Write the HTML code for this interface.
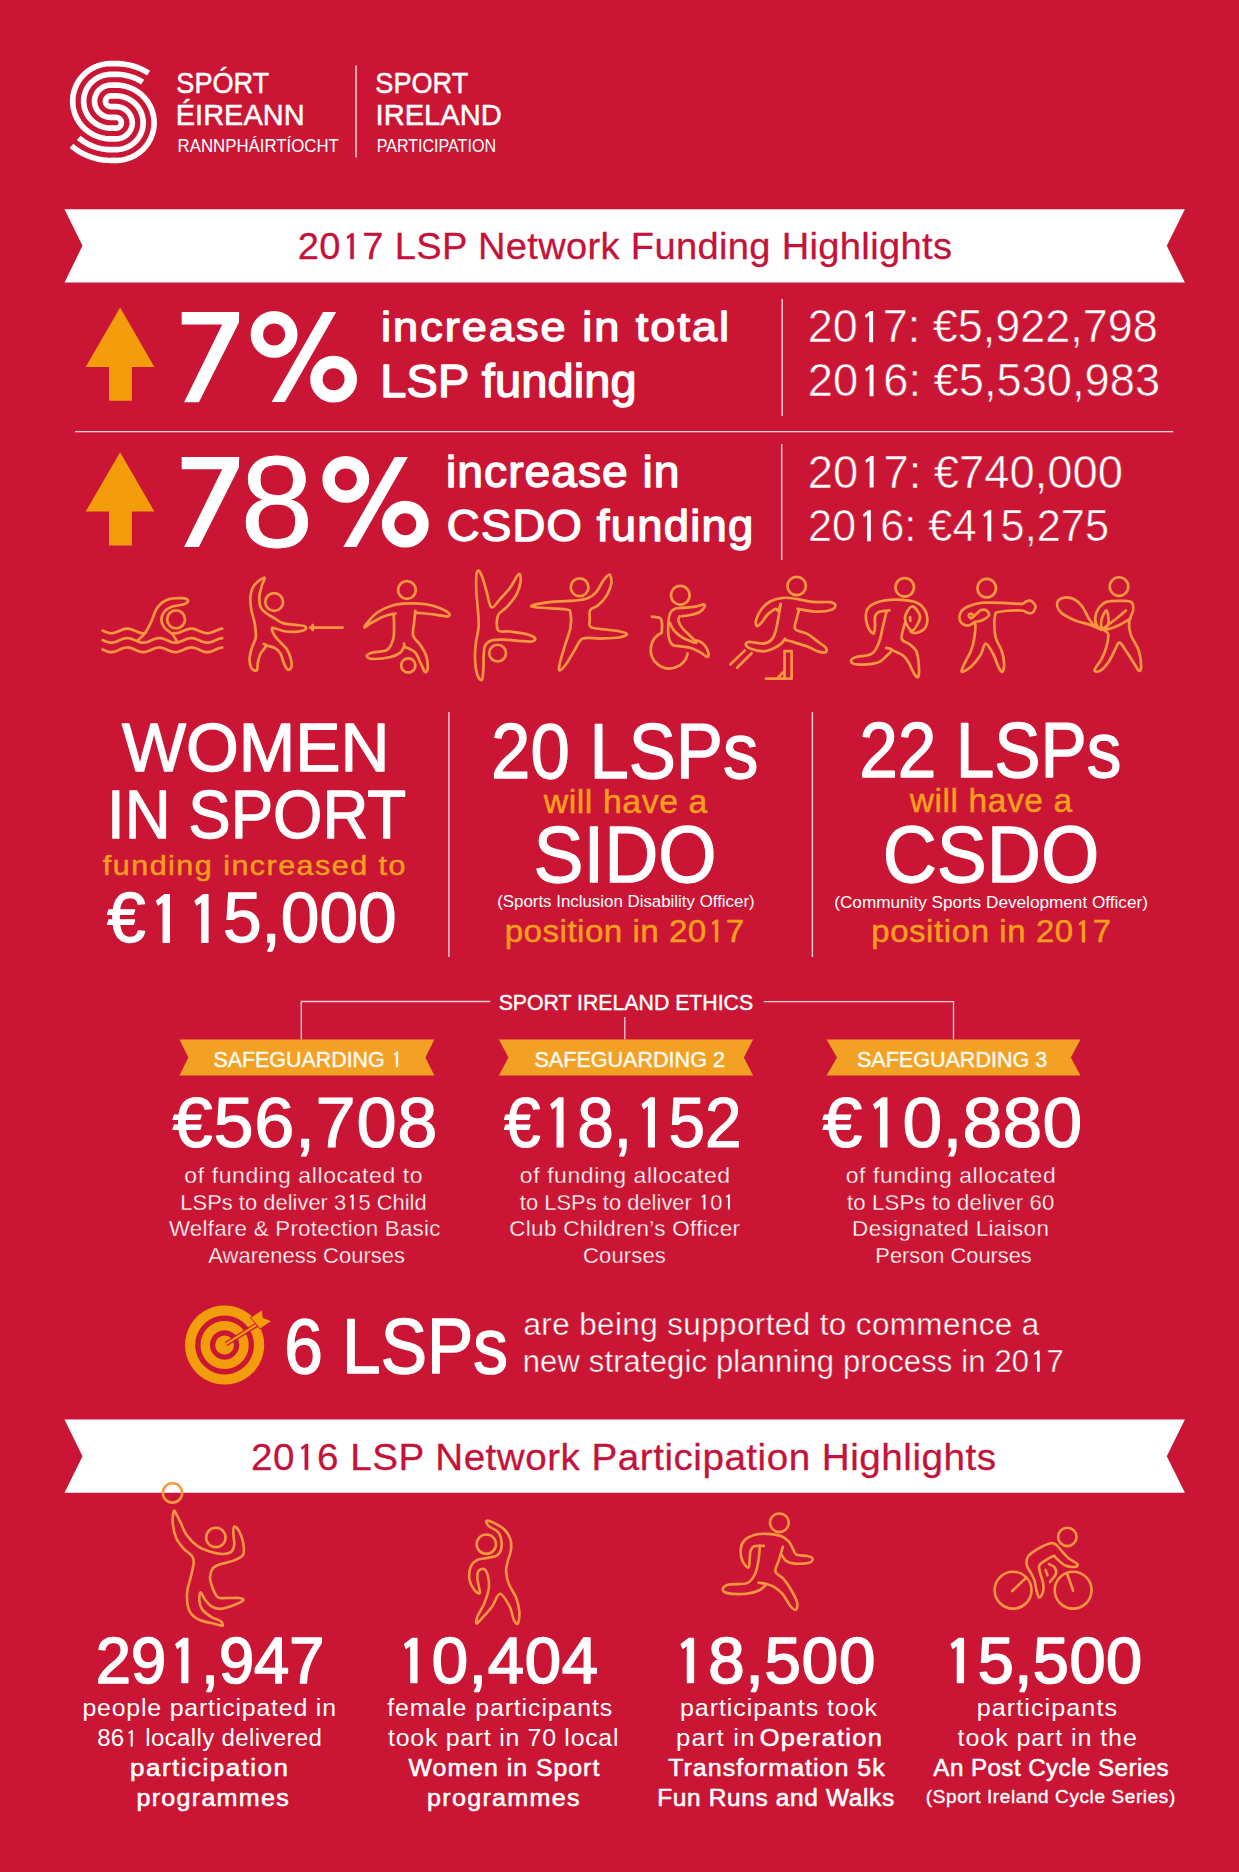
<!DOCTYPE html>
<html><head><meta charset="utf-8"><title>LSP Network Highlights</title>
<style>
html,body{margin:0;padding:0;background:#CA1634;width:1239px;height:1872px;overflow:hidden;}
svg{display:block;font-family:"Liberation Sans",sans-serif;white-space:pre;}
</style></head><body>
<svg width="1239" height="1872" viewBox="0 0 1239 1872">
<rect width="1239" height="1872" fill="#CA1634"/>
<g transform="translate(113.5,112) scale(1.03,1.015) translate(-113.5,-112)"><path d="M79.71,137.40 L81.59,138.95 L83.54,140.41 L85.57,141.76 L87.67,143.00 L89.82,144.14 L92.03,145.17 L94.30,146.08 L96.60,146.87 L98.94,147.55 L101.32,148.11 L103.71,148.54 L106.13,148.85 L108.56,149.04 L111.00,149.10 L115.80,149.10 L117.16,149.06 L118.52,148.96 L119.88,148.78 L121.22,148.54 L122.55,148.23 L123.86,147.84 L125.15,147.40 L126.41,146.88 L127.65,146.30 L128.85,145.66 L130.02,144.96 L131.15,144.20 L132.25,143.38 L133.29,142.50 L134.30,141.58 L135.25,140.60 L136.15,139.58 L137.00,138.51 L137.79,137.39 L138.52,136.24 L139.19,135.05 L139.80,133.83 L140.35,132.58 L140.83,131.31 L141.24,130.01 L141.59,128.69 L141.87,127.35 L142.08,126.00 L142.22,124.65 L142.29,123.28 L142.29,121.92 L142.22,120.55 L142.08,119.20 L141.87,117.85 L141.59,116.51 L141.24,115.19 L140.83,113.89 L140.35,112.62 L139.80,111.37 L139.19,110.15 L138.52,108.96 L137.79,107.81 L137.00,106.69 L136.15,105.62 L135.25,104.60 L134.30,103.62 L133.29,102.70 L132.25,101.82 L131.15,101.00 L130.02,100.24 L128.85,99.54 L127.65,98.90 L126.41,98.32 L125.15,97.80 L123.86,97.36 L122.55,96.97 L121.22,96.66 L119.88,96.42 L118.52,96.24 L117.16,96.14 L115.80,96.10 L111.00,96.10 L110.73,96.11 L110.46,96.13 L110.18,96.16 L109.92,96.21 L109.65,96.27 L109.39,96.35 L109.13,96.44 L108.88,96.54 L108.63,96.66 L108.39,96.79 L108.16,96.93 L107.93,97.08 L107.71,97.24 L107.50,97.42 L107.30,97.60 L107.11,97.80 L106.93,98.00 L106.76,98.22 L106.60,98.44 L106.46,98.67 L106.32,98.91 L106.20,99.15 L106.09,99.40 L105.99,99.66 L105.91,99.92 L105.84,100.18 L105.79,100.45 L105.74,100.72 L105.72,100.99 L105.70,101.26 L105.70,101.54 L105.72,101.81 L105.74,102.08 L105.79,102.35 L105.84,102.62 L105.91,102.88 L105.99,103.14 L106.09,103.40 L106.20,103.65 L106.32,103.89 L106.46,104.13 L106.60,104.36 L106.76,104.58 L106.93,104.80 L107.11,105.00 L107.30,105.20 L107.50,105.38 L107.71,105.56 L107.93,105.72 L108.16,105.87 L108.39,106.01 L108.63,106.14 L108.88,106.26 L109.13,106.36 L109.39,106.45 L109.65,106.53 L109.92,106.59 L110.18,106.64 L110.46,106.67 L110.73,106.69 L111.00,106.70 L115.80,106.70 L116.62,106.72 L117.43,106.78 L118.25,106.89 L119.05,107.04 L119.85,107.22 L120.64,107.45 L121.41,107.72 L122.17,108.03 L122.91,108.38 L123.63,108.76 L124.33,109.18 L125.01,109.64 L125.67,110.13 L126.30,110.66 L126.90,111.21 L127.47,111.80 L128.01,112.41 L128.52,113.06 L128.99,113.72 L129.43,114.41 L129.83,115.13 L130.20,115.86 L130.53,116.61 L130.82,117.38 L131.07,118.16 L131.27,118.95 L131.44,119.75 L131.57,120.56 L131.65,121.37 L131.69,122.19 L131.69,123.01 L131.65,123.83 L131.57,124.64 L131.44,125.45 L131.27,126.25 L131.07,127.04 L130.82,127.82 L130.53,128.59 L130.20,129.34 L129.83,130.07 L129.43,130.79 L128.99,131.48 L128.52,132.14 L128.01,132.79 L127.47,133.40 L126.90,133.99 L126.30,134.54 L125.67,135.07 L125.01,135.56 L124.33,136.02 L123.63,136.44 L122.91,136.82 L122.17,137.17 L121.41,137.48 L120.64,137.75 L119.85,137.98 L119.05,138.16 L118.25,138.31 L117.43,138.42 L116.62,138.48 L115.80,138.50 L111.00,138.50 L109.09,138.45 L107.19,138.30 L105.29,138.06 L103.41,137.72 L101.55,137.28 L99.72,136.74 L97.91,136.12 L96.14,135.40 L94.41,134.59 L92.73,133.69 L91.09,132.70 L89.50,131.64 L87.98,130.49 L86.51,129.27 L85.11,127.97 L83.77,126.60 L82.51,125.17 L81.33,123.67 L80.22,122.11 L79.19,120.50 L78.25,118.84 L77.40,117.13 L76.63,115.38 L75.96,113.59 L75.38,111.77 L74.89,109.92 L74.50,108.05 L74.21,106.16 L74.01,104.26 L73.91,102.36 L73.91,100.44 L74.01,98.54 L74.21,96.64 L74.50,94.75 L74.89,92.88 L75.38,91.03 L75.96,89.21 L76.63,87.42 L77.40,85.67 L78.25,83.96 L79.19,82.30 L80.22,80.69 L81.33,79.13 L82.51,77.63 L83.77,76.20 L85.11,74.83 L86.51,73.53 L87.98,72.31 L89.50,71.16 L91.09,70.10 L92.73,69.11 L94.41,68.21 L96.14,67.40 L97.91,66.68 L99.72,66.06 L101.55,65.52 L103.41,65.08 L105.29,64.74 L107.19,64.50 L109.09,64.35 L111.00,64.30 L115.80,64.30 L118.60,64.37 L121.39,64.57 L124.17,64.90 L126.92,65.37 L129.66,65.97 L132.36,66.70 L135.02,67.56 L137.64,68.55 L140.21,69.66 L142.72,70.89 L145.17,72.24 L147.55,73.71" fill="none" stroke="#FFFFFF" stroke-width="5.5" stroke-linejoin="round"/>
<path d="M72.75,145.40 L75.05,147.30 L77.44,149.07 L79.92,150.73 L82.48,152.25 L85.12,153.64 L87.82,154.89 L90.58,156.01 L93.40,156.98 L96.26,157.81 L99.16,158.49 L102.10,159.02 L105.05,159.40 L108.02,159.62 L111.00,159.70 L115.80,159.70 L117.71,159.65 L119.61,159.50 L121.51,159.26 L123.39,158.92 L125.25,158.48 L127.08,157.94 L128.89,157.32 L130.66,156.60 L132.39,155.79 L134.07,154.89 L135.71,153.90 L137.30,152.84 L138.82,151.69 L140.29,150.47 L141.69,149.17 L143.03,147.80 L144.29,146.37 L145.47,144.87 L146.58,143.31 L147.61,141.70 L148.55,140.04 L149.40,138.33 L150.17,136.58 L150.84,134.79 L151.42,132.97 L151.91,131.12 L152.30,129.25 L152.59,127.36 L152.79,125.46 L152.89,123.56 L152.89,121.64 L152.79,119.74 L152.59,117.84 L152.30,115.95 L151.91,114.08 L151.42,112.23 L150.84,110.41 L150.17,108.62 L149.40,106.87 L148.55,105.16 L147.61,103.50 L146.58,101.89 L145.47,100.33 L144.29,98.83 L143.03,97.40 L141.69,96.03 L140.29,94.73 L138.82,93.51 L137.30,92.36 L135.71,91.30 L134.07,90.31 L132.39,89.41 L130.66,88.60 L128.89,87.88 L127.08,87.26 L125.25,86.72 L123.39,86.28 L121.51,85.94 L119.61,85.70 L117.71,85.55 L115.80,85.50 L111.00,85.50 L110.18,85.52 L109.37,85.58 L108.55,85.69 L107.75,85.84 L106.95,86.02 L106.16,86.25 L105.39,86.52 L104.63,86.83 L103.89,87.18 L103.17,87.56 L102.47,87.98 L101.79,88.44 L101.13,88.93 L100.50,89.46 L99.90,90.01 L99.33,90.60 L98.79,91.21 L98.28,91.86 L97.81,92.52 L97.37,93.21 L96.97,93.93 L96.60,94.66 L96.27,95.41 L95.98,96.18 L95.73,96.96 L95.53,97.75 L95.36,98.55 L95.23,99.36 L95.15,100.17 L95.11,100.99 L95.11,101.81 L95.15,102.63 L95.23,103.44 L95.36,104.25 L95.53,105.05 L95.73,105.84 L95.98,106.62 L96.27,107.39 L96.60,108.14 L96.97,108.87 L97.37,109.59 L97.81,110.28 L98.28,110.94 L98.79,111.59 L99.33,112.20 L99.90,112.79 L100.50,113.34 L101.13,113.87 L101.79,114.36 L102.47,114.82 L103.17,115.24 L103.89,115.62 L104.63,115.97 L105.39,116.28 L106.16,116.55 L106.95,116.78 L107.75,116.96 L108.55,117.11 L109.37,117.22 L110.18,117.28 L111.00,117.30 L115.80,117.30 L116.07,117.31 L116.34,117.33 L116.62,117.36 L116.88,117.41 L117.15,117.47 L117.41,117.55 L117.67,117.64 L117.92,117.74 L118.17,117.86 L118.41,117.99 L118.64,118.13 L118.87,118.28 L119.09,118.44 L119.30,118.62 L119.50,118.80 L119.69,119.00 L119.87,119.20 L120.04,119.42 L120.20,119.64 L120.34,119.87 L120.48,120.11 L120.60,120.35 L120.71,120.60 L120.81,120.86 L120.89,121.12 L120.96,121.38 L121.01,121.65 L121.06,121.92 L121.08,122.19 L121.10,122.46 L121.10,122.74 L121.08,123.01 L121.06,123.28 L121.01,123.55 L120.96,123.82 L120.89,124.08 L120.81,124.34 L120.71,124.60 L120.60,124.85 L120.48,125.09 L120.34,125.33 L120.20,125.56 L120.04,125.78 L119.87,126.00 L119.69,126.20 L119.50,126.40 L119.30,126.58 L119.09,126.76 L118.87,126.92 L118.64,127.07 L118.41,127.21 L118.17,127.34 L117.92,127.46 L117.67,127.56 L117.41,127.65 L117.15,127.73 L116.88,127.79 L116.62,127.84 L116.34,127.87 L116.07,127.89 L115.80,127.90 L111.00,127.90 L109.64,127.86 L108.28,127.76 L106.92,127.58 L105.58,127.34 L104.25,127.03 L102.94,126.64 L101.65,126.20 L100.39,125.68 L99.15,125.10 L97.95,124.46 L96.78,123.76 L95.65,123.00 L94.55,122.18 L93.51,121.30 L92.50,120.38 L91.55,119.40 L90.65,118.38 L89.80,117.31 L89.01,116.19 L88.28,115.04 L87.61,113.85 L87.00,112.63 L86.45,111.38 L85.97,110.11 L85.56,108.81 L85.21,107.49 L84.93,106.15 L84.72,104.80 L84.58,103.45 L84.51,102.08 L84.51,100.72 L84.58,99.35 L84.72,98.00 L84.93,96.65 L85.21,95.31 L85.56,93.99 L85.97,92.69 L86.45,91.42 L87.00,90.17 L87.61,88.95 L88.28,87.76 L89.01,86.61 L89.80,85.49 L90.65,84.42 L91.55,83.40 L92.50,82.42 L93.51,81.50 L94.55,80.62 L95.65,79.80 L96.78,79.04 L97.95,78.34 L99.15,77.70 L100.39,77.12 L101.65,76.60 L102.94,76.16 L104.25,75.77 L105.58,75.46 L106.92,75.22 L108.28,75.04 L109.64,74.94 L111.00,74.90 L115.80,74.90 L118.09,74.95 L120.37,75.12 L122.64,75.39 L124.90,75.78 L127.14,76.27 L129.35,76.86 L131.53,77.57 L133.67,78.37 L135.77,79.28 L137.83,80.29 L139.83,81.40 L141.78,82.60" fill="none" stroke="#FFFFFF" stroke-width="5.5" stroke-linejoin="round"/></g>
<text x="176.32" y="93.45" font-size="30.38" fill="#FFFFFF" stroke="#FFFFFF" stroke-width="0.50" stroke-linejoin="round" textLength="92.85" lengthAdjust="spacingAndGlyphs">SPÓRT</text>
<text x="175.77" y="125.15" font-size="29.94" fill="#FFFFFF" stroke="#FFFFFF" stroke-width="0.50" stroke-linejoin="round" textLength="128.84" lengthAdjust="spacingAndGlyphs">ÉIREANN</text>
<text x="177.62" y="151.80" font-size="18.31" fill="#FFFFFF" textLength="161.26" lengthAdjust="spacingAndGlyphs">RANNPHÁIRTÍOCHT</text>
<text x="375.32" y="93.45" font-size="30.38" fill="#FFFFFF" stroke="#FFFFFF" stroke-width="0.50" stroke-linejoin="round" textLength="92.95" lengthAdjust="spacingAndGlyphs">SPORT</text>
<text x="375.57" y="124.95" font-size="29.94" fill="#FFFFFF" stroke="#FFFFFF" stroke-width="0.50" stroke-linejoin="round" textLength="126.08" lengthAdjust="spacingAndGlyphs">IRELAND</text>
<text x="376.68" y="151.80" font-size="18.31" fill="#FFFFFF" textLength="119.33" lengthAdjust="spacingAndGlyphs">PARTICIPATION</text>
<rect x="355.3" y="65.5" width="1.5" height="92" fill="#F6D2D8"/>
<polygon points="64.5,209.2 1184.9,209.2 1166.8,245.8 1184.9,282.4 64.5,282.4 82.5,245.8" fill="#FFFFFF"/>
<text x="297.84" y="259.05" font-size="37.35" letter-spacing="0.34" fill="#C4123A" stroke="#C4123A" stroke-width="0.30" stroke-linejoin="round" textLength="654.43" lengthAdjust="spacingAndGlyphs">20 7 LSP Network Funding Highlights</text>
<path transform="translate(340.81,259.05) scale(0.01856,-0.01824)" d="M515,0 H696 V1409 H565 L318,1222 L368,1098 L515,1212 Z" fill="#C4123A" stroke="#C4123A" stroke-width="16.2" stroke-linejoin="round"/>
<polygon points="120.1,307.6 154.4,366.9 131.9,366.9 131.9,400.8 109.0,400.8 109.0,366.9 85.7,366.9" fill="#F49D0C"/>
<polygon points="120.1,452.20000000000005 154.4,511.5 131.9,511.5 131.9,545.4 109.0,545.4 109.0,511.5 85.7,511.5" fill="#F49D0C"/>
<polygon points="181.7,312.0 239.2,312.0 238.9,322.6 198.9,402.2 184.1,402.2 222.2,324.4 181.7,324.4" fill="#FFFFFF"/>
<g fill="none" stroke="#FFFFFF" stroke-width="12.4"><circle cx="274.1" cy="334.4" r="17.2"/><circle cx="333.6" cy="379.2" r="17.2"/></g><polygon points="323.0,312.0 336.2,312.0 284.8,402.0 271.6,402.0" fill="#FFFFFF"/>
<text x="381.08" y="341.10" font-size="41.26" letter-spacing="1.83" fill="#FFFFFF" stroke="#FFFFFF" stroke-width="1.40" stroke-linejoin="round" textLength="350.04" lengthAdjust="spacingAndGlyphs">increase in total</text>
<text x="380.26" y="396.90" font-size="46.51" letter-spacing="0.14" fill="#FFFFFF" stroke="#FFFFFF" stroke-width="1.40" stroke-linejoin="round" textLength="256.50" lengthAdjust="spacingAndGlyphs">LSP funding</text>
<text x="807.84" y="342.30" font-size="45.40" fill="#FFFFFF" stroke="#CA1634" stroke-width="0.60" stroke-linejoin="round" textLength="349.91" lengthAdjust="spacingAndGlyphs">20 7: €5,922,798</text>
<path transform="translate(857.83,342.30) scale(0.02195,-0.02217)" d="M515,0 H696 V1409 H565 L318,1222 L368,1098 L515,1212 Z" fill="#FFFFFF"/>
<text x="807.82" y="396.20" font-size="45.83" fill="#FFFFFF" stroke="#CA1634" stroke-width="0.60" stroke-linejoin="round" textLength="352.26" lengthAdjust="spacingAndGlyphs">20 6: €5,530,983</text>
<path transform="translate(858.15,396.20) scale(0.02209,-0.02238)" d="M515,0 H696 V1409 H565 L318,1222 L368,1098 L515,1212 Z" fill="#FFFFFF"/>
<rect x="781.5" y="299" width="1.4" height="117" fill="#F6D2D8"/>
<rect x="75.2" y="431" width="1098" height="1.3" fill="#F6D2D8"/>
<polygon points="181.7,456.9 239.2,456.9 238.9,467.5 198.9,547.1 184.1,547.1 222.2,469.3 181.7,469.3" fill="#FFFFFF"/>
<text x="240.51" y="547.40" font-size="129.91" letter-spacing="0.22" fill="#FFFFFF" stroke="#FFFFFF" stroke-width="0.80" stroke-linejoin="round" textLength="73.00" lengthAdjust="spacingAndGlyphs">8</text>
<g fill="none" stroke="#FFFFFF" stroke-width="12.4"><circle cx="345.8" cy="479.4" r="17.2"/><circle cx="405.3" cy="524.2" r="17.2"/></g><polygon points="394.7,457.0 407.9,457.0 356.5,547.0 343.3,547.0" fill="#FFFFFF"/>
<text x="446.11" y="487.10" font-size="44.30" letter-spacing="0.95" fill="#FFFFFF" stroke="#FFFFFF" stroke-width="1.40" stroke-linejoin="round" textLength="234.38" lengthAdjust="spacingAndGlyphs">increase in</text>
<text x="446.89" y="540.80" font-size="43.46" letter-spacing="1.18" fill="#FFFFFF" stroke="#FFFFFF" stroke-width="1.40" stroke-linejoin="round" textLength="307.56" lengthAdjust="spacingAndGlyphs">CSDO funding</text>
<text x="807.82" y="487.60" font-size="45.83" fill="#FFFFFF" stroke="#CA1634" stroke-width="0.60" stroke-linejoin="round" textLength="315.05" lengthAdjust="spacingAndGlyphs">20 7: €740,000</text>
<path transform="translate(858.23,487.60) scale(0.02213,-0.02238)" d="M515,0 H696 V1409 H565 L318,1222 L368,1098 L515,1212 Z" fill="#FFFFFF"/>
<text x="807.92" y="541.30" font-size="44.97" fill="#FFFFFF" stroke="#CA1634" stroke-width="0.60" stroke-linejoin="round" textLength="301.10" lengthAdjust="spacingAndGlyphs">20 6: €4 5,275</text>
<path transform="translate(856.10,541.30) scale(0.02115,-0.02196)" d="M515,0 H696 V1409 H565 L318,1222 L368,1098 L515,1212 Z" fill="#FFFFFF"/>
<path transform="translate(976.53,541.30) scale(0.02115,-0.02196)" d="M515,0 H696 V1409 H565 L318,1222 L368,1098 L515,1212 Z" fill="#FFFFFF"/>
<rect x="781.0" y="444" width="1.4" height="116" fill="#F6D2D8"/>
<g transform="translate(100,590) scale(0.10493)" fill="none" stroke="#FC9640" stroke-width="25.7" stroke-linecap="round" stroke-linejoin="round">
<path d="M25.0,387.2 C27.5,388.3 35.0,391.8 40.0,393.9 C45.0,396.1 50.0,398.4 55.0,400.3 C60.0,402.3 65.0,404.2 70.0,405.8 C75.0,407.3 80.0,408.7 85.0,409.7 C90.0,410.7 95.0,411.4 100.0,411.7 C105.0,412.1 110.0,412.1 115.0,411.7 C120.0,411.4 125.0,410.7 130.0,409.7 C135.0,408.7 140.0,407.3 145.0,405.8 C150.0,404.2 155.0,402.3 160.0,400.3 C165.0,398.4 170.0,396.1 175.0,393.9 C180.0,391.8 185.0,389.4 190.0,387.2 C195.0,385.0 200.0,382.7 205.0,380.7 C210.0,378.7 215.0,376.7 220.0,375.1 C225.0,373.4 230.0,372.0 235.0,370.9 C240.0,369.8 245.0,368.9 250.0,368.5 C255.0,368.0 260.0,367.9 265.0,368.1 C270.0,368.3 275.0,368.9 280.0,369.8 C285.0,370.7 290.0,372.0 295.0,373.5 C300.0,374.9 305.0,376.8 310.0,378.7 C315.0,380.6 320.0,382.8 325.0,384.9 C330.0,387.1 335.0,389.5 340.0,391.7 C345.0,393.9 350.0,396.2 355.0,398.3 C360.0,400.4 365.0,402.4 370.0,404.1 C375.0,405.8 380.0,407.4 385.0,408.6 C390.0,409.8 395.0,410.7 400.0,411.3 C405.0,411.8 410.0,412.1 415.0,412.0 C420.0,411.9 427.5,410.8 430.0,410.6"/>
<path d="M700.0,410.6 C702.5,410.8 710.0,411.9 715.0,412.0 C720.0,412.1 725.0,411.8 730.0,411.3 C735.0,410.7 740.0,409.8 745.0,408.6 C750.0,407.4 755.0,405.8 760.0,404.1 C765.0,402.4 770.0,400.4 775.0,398.3 C780.0,396.2 785.0,393.9 790.0,391.7 C795.0,389.5 800.0,387.1 805.0,384.9 C810.0,382.8 815.0,380.6 820.0,378.7 C825.0,376.8 830.0,374.9 835.0,373.5 C840.0,372.0 845.0,370.7 850.0,369.8 C855.0,368.9 860.0,368.3 865.0,368.1 C870.0,367.9 875.0,368.0 880.0,368.5 C885.0,368.9 890.0,369.8 895.0,370.9 C900.0,372.0 905.0,373.4 910.0,375.1 C915.0,376.7 920.0,378.7 925.0,380.7 C930.0,382.7 935.0,385.0 940.0,387.2 C945.0,389.4 950.0,391.8 955.0,393.9 C960.0,396.1 965.0,398.4 970.0,400.3 C975.0,402.3 980.0,404.2 985.0,405.8 C990.0,407.3 995.0,408.7 1000.0,409.7 C1005.0,410.7 1010.0,411.4 1015.0,411.7 C1020.0,412.1 1025.0,412.1 1030.0,411.7 C1035.0,411.4 1040.0,410.7 1045.0,409.7 C1050.0,408.7 1055.0,407.3 1060.0,405.8 C1065.0,404.2 1070.0,402.3 1075.0,400.3 C1080.0,398.4 1085.0,396.1 1090.0,393.9 C1095.0,391.8 1100.0,389.4 1105.0,387.2 C1110.0,385.0 1115.0,382.7 1120.0,380.7 C1125.0,378.7 1130.0,376.7 1135.0,375.1 C1140.0,373.4 1145.0,372.0 1150.0,370.9 C1155.0,369.8 1162.5,368.9 1165.0,368.5"/>
<path d="M25.0,477.2 C27.5,478.3 35.0,481.8 40.0,483.9 C45.0,486.1 50.0,488.4 55.0,490.3 C60.0,492.3 65.0,494.2 70.0,495.8 C75.0,497.3 80.0,498.7 85.0,499.7 C90.0,500.7 95.0,501.4 100.0,501.7 C105.0,502.1 110.0,502.1 115.0,501.7 C120.0,501.4 125.0,500.7 130.0,499.7 C135.0,498.7 140.0,497.3 145.0,495.8 C150.0,494.2 155.0,492.3 160.0,490.3 C165.0,488.4 170.0,486.1 175.0,483.9 C180.0,481.8 185.0,479.4 190.0,477.2 C195.0,475.0 200.0,472.7 205.0,470.7 C210.0,468.7 215.0,466.7 220.0,465.1 C225.0,463.4 230.0,462.0 235.0,460.9 C240.0,459.8 245.0,458.9 250.0,458.5 C255.0,458.0 260.0,457.9 265.0,458.1 C270.0,458.3 275.0,458.9 280.0,459.8 C285.0,460.7 290.0,462.0 295.0,463.5 C300.0,464.9 305.0,466.8 310.0,468.7 C315.0,470.6 320.0,472.8 325.0,474.9 C330.0,477.1 335.0,479.5 340.0,481.7 C345.0,483.9 350.0,486.2 355.0,488.3 C360.0,490.4 365.0,492.4 370.0,494.1 C375.0,495.8 380.0,497.4 385.0,498.6 C390.0,499.8 395.0,500.7 400.0,501.3 C405.0,501.8 410.0,502.1 415.0,502.0 C420.0,501.9 425.0,501.4 430.0,500.6 C435.0,499.8 440.0,498.6 445.0,497.3 C450.0,495.9 455.0,494.1 460.0,492.3 C465.0,490.4 470.0,488.3 475.0,486.1 C480.0,484.0 485.0,481.7 490.0,479.4 C495.0,477.2 500.0,474.9 505.0,472.8 C510.0,470.7 515.0,468.6 520.0,466.8 C525.0,465.0 530.0,463.4 535.0,462.1 C540.0,460.8 545.0,459.7 550.0,459.0 C555.0,458.4 560.0,458.0 565.0,458.0 C570.0,458.0 575.0,458.4 580.0,459.0 C585.0,459.7 590.0,460.8 595.0,462.1 C600.0,463.4 605.0,465.0 610.0,466.8 C615.0,468.6 620.0,470.7 625.0,472.8 C630.0,474.9 635.0,477.2 640.0,479.4 C645.0,481.7 650.0,484.0 655.0,486.1 C660.0,488.3 665.0,490.4 670.0,492.3 C675.0,494.1 680.0,495.9 685.0,497.3 C690.0,498.6 695.0,499.8 700.0,500.6 C705.0,501.4 710.0,501.9 715.0,502.0 C720.0,502.1 725.0,501.8 730.0,501.3 C735.0,500.7 740.0,499.8 745.0,498.6 C750.0,497.4 755.0,495.8 760.0,494.1 C765.0,492.4 770.0,490.4 775.0,488.3 C780.0,486.2 785.0,483.9 790.0,481.7 C795.0,479.5 800.0,477.1 805.0,474.9 C810.0,472.8 815.0,470.6 820.0,468.7 C825.0,466.8 830.0,464.9 835.0,463.5 C840.0,462.0 845.0,460.7 850.0,459.8 C855.0,458.9 860.0,458.3 865.0,458.1 C870.0,457.9 875.0,458.0 880.0,458.5 C885.0,458.9 890.0,459.8 895.0,460.9 C900.0,462.0 905.0,463.4 910.0,465.1 C915.0,466.7 920.0,468.7 925.0,470.7 C930.0,472.7 935.0,475.0 940.0,477.2 C945.0,479.4 950.0,481.8 955.0,483.9 C960.0,486.1 965.0,488.4 970.0,490.3 C975.0,492.3 980.0,494.2 985.0,495.8 C990.0,497.3 995.0,498.7 1000.0,499.7 C1005.0,500.7 1010.0,501.4 1015.0,501.7 C1020.0,502.1 1025.0,502.1 1030.0,501.7 C1035.0,501.4 1040.0,500.7 1045.0,499.7 C1050.0,498.7 1055.0,497.3 1060.0,495.8 C1065.0,494.2 1070.0,492.3 1075.0,490.3 C1080.0,488.4 1085.0,486.1 1090.0,483.9 C1095.0,481.8 1100.0,479.4 1105.0,477.2 C1110.0,475.0 1115.0,472.7 1120.0,470.7 C1125.0,468.7 1130.0,466.7 1135.0,465.1 C1140.0,463.4 1145.0,462.0 1150.0,460.9 C1155.0,459.8 1162.5,458.9 1165.0,458.5"/>
<path d="M25.0,567.2 C27.5,568.3 35.0,571.8 40.0,573.9 C45.0,576.1 50.0,578.4 55.0,580.3 C60.0,582.3 65.0,584.2 70.0,585.8 C75.0,587.3 80.0,588.7 85.0,589.7 C90.0,590.7 95.0,591.4 100.0,591.7 C105.0,592.1 110.0,592.1 115.0,591.7 C120.0,591.4 125.0,590.7 130.0,589.7 C135.0,588.7 140.0,587.3 145.0,585.8 C150.0,584.2 155.0,582.3 160.0,580.3 C165.0,578.4 170.0,576.1 175.0,573.9 C180.0,571.8 185.0,569.4 190.0,567.2 C195.0,565.0 200.0,562.7 205.0,560.7 C210.0,558.7 215.0,556.7 220.0,555.1 C225.0,553.4 230.0,552.0 235.0,550.9 C240.0,549.8 245.0,548.9 250.0,548.5 C255.0,548.0 260.0,547.9 265.0,548.1 C270.0,548.3 275.0,548.9 280.0,549.8 C285.0,550.7 290.0,552.0 295.0,553.5 C300.0,554.9 305.0,556.8 310.0,558.7 C315.0,560.6 320.0,562.8 325.0,564.9 C330.0,567.1 335.0,569.5 340.0,571.7 C345.0,573.9 350.0,576.2 355.0,578.3 C360.0,580.4 365.0,582.4 370.0,584.1 C375.0,585.8 380.0,587.4 385.0,588.6 C390.0,589.8 395.0,590.7 400.0,591.3 C405.0,591.8 410.0,592.1 415.0,592.0 C420.0,591.9 425.0,591.4 430.0,590.6 C435.0,589.8 440.0,588.6 445.0,587.3 C450.0,585.9 455.0,584.1 460.0,582.3 C465.0,580.4 470.0,578.3 475.0,576.1 C480.0,574.0 485.0,571.7 490.0,569.4 C495.0,567.2 500.0,564.9 505.0,562.8 C510.0,560.7 515.0,558.6 520.0,556.8 C525.0,555.0 530.0,553.4 535.0,552.1 C540.0,550.8 545.0,549.7 550.0,549.0 C555.0,548.4 560.0,548.0 565.0,548.0 C570.0,548.0 575.0,548.4 580.0,549.0 C585.0,549.7 590.0,550.8 595.0,552.1 C600.0,553.4 605.0,555.0 610.0,556.8 C615.0,558.6 620.0,560.7 625.0,562.8 C630.0,564.9 635.0,567.2 640.0,569.4 C645.0,571.7 650.0,574.0 655.0,576.1 C660.0,578.3 665.0,580.4 670.0,582.3 C675.0,584.1 680.0,585.9 685.0,587.3 C690.0,588.6 695.0,589.8 700.0,590.6 C705.0,591.4 710.0,591.9 715.0,592.0 C720.0,592.1 725.0,591.8 730.0,591.3 C735.0,590.7 740.0,589.8 745.0,588.6 C750.0,587.4 755.0,585.8 760.0,584.1 C765.0,582.4 770.0,580.4 775.0,578.3 C780.0,576.2 785.0,573.9 790.0,571.7 C795.0,569.5 800.0,567.1 805.0,564.9 C810.0,562.8 815.0,560.6 820.0,558.7 C825.0,556.8 830.0,554.9 835.0,553.5 C840.0,552.0 845.0,550.7 850.0,549.8 C855.0,548.9 860.0,548.3 865.0,548.1 C870.0,547.9 875.0,548.0 880.0,548.5 C885.0,548.9 890.0,549.8 895.0,550.9 C900.0,552.0 905.0,553.4 910.0,555.1 C915.0,556.7 920.0,558.7 925.0,560.7 C930.0,562.7 935.0,565.0 940.0,567.2 C945.0,569.4 950.0,571.8 955.0,573.9 C960.0,576.1 965.0,578.4 970.0,580.3 C975.0,582.3 980.0,584.2 985.0,585.8 C990.0,587.3 995.0,588.7 1000.0,589.7 C1005.0,590.7 1010.0,591.4 1015.0,591.7 C1020.0,592.1 1025.0,592.1 1030.0,591.7 C1035.0,591.4 1040.0,590.7 1045.0,589.7 C1050.0,588.7 1055.0,587.3 1060.0,585.8 C1065.0,584.2 1070.0,582.3 1075.0,580.3 C1080.0,578.4 1085.0,576.1 1090.0,573.9 C1095.0,571.8 1100.0,569.4 1105.0,567.2 C1110.0,565.0 1115.0,562.7 1120.0,560.7 C1125.0,558.7 1130.0,556.7 1135.0,555.1 C1140.0,553.4 1145.0,552.0 1150.0,550.9 C1155.0,549.8 1162.5,548.9 1165.0,548.5"/>
<path d="M360.0,480.0 C371.7,468.3 408.3,440.0 430.0,410.0 C451.7,380.0 470.8,340.0 490.0,300.0 C509.2,260.0 520.0,204.7 545.0,170.0 C570.0,135.3 600.8,107.3 640.0,92.0 C679.2,76.7 746.7,76.3 780.0,78.0 C813.3,79.7 836.7,92.5 840.0,102.0 C843.3,111.5 825.0,125.7 800.0,135.0 C775.0,144.3 720.8,146.3 690.0,158.0 C659.2,169.7 632.5,183.8 615.0,205.0 C597.5,226.2 585.0,259.2 585.0,285.0 C585.0,310.8 597.5,337.5 615.0,360.0 C632.5,382.5 671.2,400.0 690.0,420.0 C708.8,440.0 720.0,466.7 728.0,480.0 C736.0,493.3 736.3,496.7 738.0,500.0"/>
<circle cx="725" cy="280" r="85"/>
</g>
<g transform="translate(240,570) scale(0.08878)" fill="none" stroke="#FC9640" stroke-width="30.4" stroke-linecap="round" stroke-linejoin="round">
<path d="M275.0,85.0 C289.2,86.3 254.5,144.2 245.0,180.0 C235.5,215.8 220.2,260.0 218.0,300.0 C215.8,340.0 218.3,388.3 232.0,420.0 C245.7,451.7 272.0,468.3 300.0,490.0 C328.0,511.7 370.0,532.0 400.0,550.0 C430.0,568.0 443.3,586.7 480.0,598.0 C516.7,609.3 579.2,612.3 620.0,618.0 C660.8,623.7 705.3,623.7 725.0,632.0 C744.7,640.3 750.5,657.5 738.0,668.0 C725.5,678.5 689.7,691.3 650.0,695.0 C610.3,698.7 547.5,697.2 500.0,690.0 C452.5,682.8 384.2,645.3 365.0,652.0 C345.8,658.7 371.7,704.5 385.0,730.0 C398.3,755.5 422.2,779.2 445.0,805.0 C467.8,830.8 501.5,855.0 522.0,885.0 C542.5,915.0 558.3,950.8 568.0,985.0 C577.7,1019.2 584.7,1067.2 580.0,1090.0 C575.3,1112.8 553.7,1127.0 540.0,1122.0 C526.3,1117.0 511.7,1089.5 498.0,1060.0 C484.3,1030.5 474.3,974.7 458.0,945.0 C441.7,915.3 424.7,897.5 400.0,882.0 C375.3,866.5 332.0,860.3 310.0,852.0 C288.0,843.7 271.3,830.3 268.0,832.0 C264.7,833.7 296.0,843.7 290.0,862.0 C284.0,880.3 246.7,912.3 232.0,942.0 C217.3,971.7 209.0,1009.0 202.0,1040.0 C195.0,1071.0 202.0,1116.7 190.0,1128.0 C178.0,1139.3 143.7,1129.3 130.0,1108.0 C116.3,1086.7 106.7,1041.0 108.0,1000.0 C109.3,959.0 126.3,902.0 138.0,862.0 C149.7,822.0 173.5,803.7 178.0,760.0 C182.5,716.3 173.3,651.7 165.0,600.0 C156.7,548.3 135.8,500.0 128.0,450.0 C120.2,400.0 112.7,346.3 118.0,300.0 C123.3,253.7 133.8,207.8 160.0,172.0 C186.2,136.2 260.8,83.7 275.0,85.0 Z"/>
<circle cx="385" cy="360" r="100"/>
<path d="M790,648 L1155,648"/>
<path d="M820,622 L800,648 L820,676 L820,622"/>
</g>
<g transform="translate(355,570) scale(0.08878)" fill="none" stroke="#FC9640" stroke-width="30.4" stroke-linecap="round" stroke-linejoin="round">
<path d="M455.0,490.0 C434.2,495.0 375.8,502.0 330.0,520.0 C284.2,538.0 216.7,576.7 180.0,598.0 C143.3,619.3 118.3,646.8 110.0,648.0 C101.7,649.2 106.7,633.0 130.0,605.0 C153.3,577.0 201.7,514.2 250.0,480.0 C298.3,445.8 361.7,417.3 420.0,400.0 C478.3,382.7 536.7,378.3 600.0,376.0 C663.3,373.7 740.0,377.0 800.0,386.0 C860.0,395.0 916.7,412.7 960.0,430.0 C1003.3,447.3 1046.7,474.7 1060.0,490.0 C1073.3,505.3 1066.7,520.0 1040.0,522.0 C1013.3,524.0 960.0,509.0 900.0,502.0 C840.0,495.0 716.7,483.7 680.0,480.0"/>
<path d="M435.0,500.0 C435.8,520.0 440.8,573.3 440.0,620.0 C439.2,666.7 443.0,733.3 430.0,780.0 C417.0,826.7 400.3,875.0 362.0,900.0 C323.7,925.0 238.3,918.3 200.0,930.0 C161.7,941.7 132.0,958.0 132.0,970.0 C132.0,982.0 155.3,1000.3 200.0,1002.0 C244.7,1003.7 348.3,992.0 400.0,980.0 C451.7,968.0 484.7,949.7 510.0,930.0 C535.3,910.3 545.0,878.7 552.0,862.0 C559.0,845.3 552.0,835.3 552.0,830.0"/>
<path d="M680.0,460.0 C677.5,483.3 669.2,553.3 665.0,600.0 C660.8,646.7 642.5,698.3 655.0,740.0 C667.5,781.7 715.8,813.3 740.0,850.0 C764.2,886.7 786.7,918.3 800.0,960.0 C813.3,1001.7 821.7,1068.3 820.0,1100.0 C818.3,1131.7 803.3,1158.3 790.0,1150.0 C776.7,1141.7 758.3,1086.7 740.0,1050.0 C721.7,1013.3 703.3,958.0 680.0,930.0 C656.7,902.0 620.0,892.0 600.0,882.0 C580.0,872.0 566.7,872.0 560.0,870.0"/>
<circle cx="585" cy="225" r="100"/>
<circle cx="600" cy="1075" r="80"/>
</g>
<g transform="translate(465,565) scale(0.06456)" fill="none" stroke="#FC9640" stroke-width="41.8" stroke-linecap="round" stroke-linejoin="round">
<path d="M215.0,90.0 C230.7,98.3 252.5,148.3 272.0,200.0 C291.5,251.7 309.0,324.2 332.0,400.0 C355.0,475.8 373.7,635.0 410.0,655.0 C446.3,675.0 501.7,570.8 550.0,520.0 C598.3,469.2 653.3,413.3 700.0,350.0 C746.7,286.7 803.0,156.7 830.0,140.0 C857.0,123.3 867.0,198.3 862.0,250.0 C857.0,301.7 835.3,383.3 800.0,450.0 C764.7,516.7 698.0,595.0 650.0,650.0 C602.0,705.0 535.0,720.0 512.0,780.0 C489.0,840.0 480.7,968.3 512.0,1010.0 C543.3,1051.7 627.0,1020.0 700.0,1030.0 C773.0,1040.0 886.3,1053.3 950.0,1070.0 C1013.7,1086.7 1065.3,1111.3 1082.0,1130.0 C1098.7,1148.7 1080.3,1173.7 1050.0,1182.0 C1019.7,1190.3 975.0,1184.2 900.0,1180.0 C825.0,1175.8 683.3,1158.3 600.0,1157.0 C516.7,1155.7 448.3,1156.2 400.0,1172.0 C351.7,1187.8 328.3,1214.0 310.0,1252.0 C291.7,1290.0 294.2,1342.0 290.0,1400.0 C285.8,1458.0 289.7,1536.7 285.0,1600.0 C280.3,1663.3 277.8,1763.3 262.0,1780.0 C246.2,1796.7 207.8,1755.0 190.0,1700.0 C172.2,1645.0 158.3,1533.3 155.0,1450.0 C151.7,1366.7 160.5,1283.3 170.0,1200.0 C179.5,1116.7 207.0,1033.3 212.0,950.0 C217.0,866.7 206.2,791.7 200.0,700.0 C193.8,608.3 178.7,491.7 175.0,400.0 C171.3,308.3 171.3,201.7 178.0,150.0 C184.7,98.3 199.3,81.7 215.0,90.0 Z"/>
<circle cx="505" cy="1365" r="130"/>
</g>
<g transform="translate(525,570) scale(0.08878)" fill="none" stroke="#FC9640" stroke-width="30.4" stroke-linecap="round" stroke-linejoin="round">
<path d="M80.0,400.0 C110.0,390.0 221.7,369.0 300.0,360.0 C378.3,351.0 483.3,352.3 550.0,346.0 C616.7,339.7 658.3,337.7 700.0,322.0 C741.7,306.3 770.0,285.3 800.0,252.0 C830.0,218.7 855.0,155.3 880.0,122.0 C905.0,88.7 934.7,47.3 950.0,52.0 C965.3,56.7 978.3,108.7 972.0,150.0 C965.7,191.3 937.3,258.3 912.0,300.0 C886.7,341.7 849.5,375.0 820.0,400.0 C790.5,425.0 750.0,425.0 735.0,450.0 C720.0,475.0 729.2,518.0 730.0,550.0 C730.8,582.0 711.7,622.0 740.0,642.0 C768.3,662.0 846.7,662.0 900.0,670.0 C953.3,678.0 1018.3,681.7 1060.0,690.0 C1101.7,698.3 1150.0,708.3 1150.0,720.0 C1150.0,731.7 1110.0,751.3 1060.0,760.0 C1010.0,768.7 918.0,770.0 850.0,772.0 C782.0,774.0 700.3,750.7 652.0,772.0 C603.7,793.3 590.3,853.7 560.0,900.0 C529.7,946.3 498.3,1011.7 470.0,1050.0 C441.7,1088.3 403.0,1130.0 390.0,1130.0 C377.0,1130.0 382.0,1096.7 392.0,1050.0 C402.0,1003.3 430.0,916.7 450.0,850.0 C470.0,783.3 501.7,711.7 512.0,650.0 C522.3,588.3 519.0,514.2 512.0,480.0 C505.0,445.8 505.3,453.0 470.0,445.0 C434.7,437.0 358.3,436.2 300.0,432.0 C241.7,427.8 156.7,425.3 120.0,420.0 C83.3,414.7 50.0,410.0 80.0,400.0 Z"/>
<circle cx="615" cy="195" r="100"/>
</g>
<g transform="translate(645,580) scale(0.05650)" fill="none" stroke="#FC9640" stroke-width="47.8" stroke-linecap="round" stroke-linejoin="round">
<path d="M660.0,640.0 C683.3,636.7 750.0,631.7 800.0,620.0 C850.0,608.3 918.3,592.5 960.0,570.0 C1001.7,547.5 1036.7,508.0 1050.0,485.0 C1063.3,462.0 1065.0,434.5 1040.0,432.0 C1015.0,429.5 956.7,460.3 900.0,470.0 C843.3,479.7 763.3,483.0 700.0,490.0 C636.7,497.0 563.3,493.7 520.0,512.0 C476.7,530.3 458.0,552.0 440.0,600.0 C422.0,648.0 415.7,733.3 412.0,800.0 C408.3,866.7 406.7,943.3 418.0,1000.0 C429.3,1056.7 449.7,1111.7 480.0,1140.0 C510.3,1168.3 546.7,1160.0 600.0,1170.0 C653.3,1180.0 736.7,1181.7 800.0,1200.0 C863.3,1218.3 930.0,1253.0 980.0,1280.0 C1030.0,1307.0 1076.3,1360.3 1100.0,1362.0 C1123.7,1363.7 1130.3,1325.3 1122.0,1290.0 C1113.7,1254.7 1082.0,1186.3 1050.0,1150.0 C1018.0,1113.7 954.2,1078.7 930.0,1072.0 C905.8,1065.3 909.2,1103.7 905.0,1110.0"/>
<path d="M612.0,642.0 C608.7,655.0 584.0,685.3 592.0,720.0 C600.0,754.7 625.3,805.0 660.0,850.0 C694.7,895.0 759.2,950.0 800.0,990.0 C840.8,1030.0 887.5,1073.3 905.0,1090.0"/>
<path d="M440.0,760.0 C453.3,783.3 480.0,855.0 520.0,900.0 C560.0,945.0 620.0,995.0 680.0,1030.0 C740.0,1065.0 846.7,1096.7 880.0,1110.0"/>
<path d="M122.0,650.0 C145.3,653.7 232.3,653.7 262.0,672.0 C291.7,690.3 294.3,717.0 300.0,760.0 C305.7,803.0 296.7,901.7 296.0,930.0"/>
<circle cx="625" cy="270" r="165"/>
<path d="M296,935 A330,330 0 1,0 755,1300"/>
</g>
<g transform="translate(725,570) scale(0.09685)" fill="none" stroke="#FC9640" stroke-width="27.9" stroke-linecap="round" stroke-linejoin="round">
<path d="M575.0,352.0 C570.5,363.3 557.2,411.7 548.0,420.0 C538.8,428.3 538.0,395.3 520.0,402.0 C502.0,408.7 463.3,437.0 440.0,460.0 C416.7,483.0 398.0,520.0 380.0,540.0 C362.0,560.0 342.0,583.3 332.0,580.0 C322.0,576.7 312.0,550.0 320.0,520.0 C328.0,490.0 355.0,433.0 380.0,400.0 C405.0,367.0 433.3,340.8 470.0,322.0 C506.7,303.2 553.3,290.7 600.0,287.0 C646.7,283.3 700.0,292.8 750.0,300.0 C800.0,307.2 845.0,324.7 900.0,330.0 C955.0,335.3 1040.0,326.7 1080.0,332.0 C1120.0,337.3 1136.7,349.0 1140.0,362.0 C1143.3,375.0 1131.7,398.7 1100.0,410.0 C1068.3,421.3 1008.3,431.3 950.0,430.0 C891.7,428.7 783.3,406.7 750.0,402.0"/>
<path d="M575.0,352.0 C570.8,376.7 559.2,452.0 550.0,500.0 C540.8,548.0 531.7,603.3 520.0,640.0 C508.3,676.7 500.0,700.0 480.0,720.0 C460.0,740.0 438.3,756.3 400.0,760.0 C361.7,763.7 280.8,740.3 250.0,742.0 C219.2,743.7 213.3,758.7 215.0,770.0 C216.7,781.3 229.2,798.3 260.0,810.0 C290.8,821.7 360.0,840.0 400.0,840.0 C440.0,840.0 470.0,823.3 500.0,810.0 C530.0,796.7 560.0,776.7 580.0,760.0 C600.0,743.3 613.3,718.3 620.0,710.0"/>
<path d="M762.0,420.0 C758.3,433.3 746.2,468.3 740.0,500.0 C733.8,531.7 706.7,583.3 725.0,610.0 C743.3,636.7 810.8,638.3 850.0,660.0 C889.2,681.7 928.3,716.7 960.0,740.0 C991.7,763.3 1026.7,781.7 1040.0,800.0 C1053.3,818.3 1053.3,843.3 1040.0,850.0 C1026.7,856.7 991.7,850.0 960.0,840.0 C928.3,830.0 893.3,806.3 850.0,790.0 C806.7,773.7 738.3,753.3 700.0,742.0 C661.7,730.7 633.3,725.3 620.0,722.0"/>
<circle cx="740" cy="165" r="95"/>
<path d="M615,1120 L615,838 L688,838 L688,1122 L422,1122"/>
<path d="M540,1120 L615,1040"/>
<path d="M55,975 L205,830"/>
<path d="M125,1010 L275,860"/>
</g>
<g transform="translate(845,570) scale(0.08071)" fill="none" stroke="#FC9640" stroke-width="33.5" stroke-linecap="round" stroke-linejoin="round">
<path d="M550.0,500.0 C528.3,503.3 449.7,506.7 420.0,520.0 C390.3,533.3 380.0,550.0 372.0,580.0 C364.0,610.0 375.3,665.0 372.0,700.0 C368.7,735.0 367.0,790.0 352.0,790.0 C337.0,790.0 297.0,743.3 282.0,700.0 C267.0,656.7 254.0,574.7 262.0,530.0 C270.0,485.3 290.3,457.7 330.0,432.0 C369.7,406.3 438.3,386.3 500.0,376.0 C561.7,365.7 636.7,366.0 700.0,370.0 C763.3,374.0 833.3,381.7 880.0,400.0 C926.7,418.3 956.7,446.7 980.0,480.0 C1003.3,513.3 1018.3,560.0 1020.0,600.0 C1021.7,640.0 1013.3,690.0 990.0,720.0 C966.7,750.0 910.0,773.0 880.0,780.0 C850.0,787.0 821.7,765.0 810.0,762.0"/>
<path d="M830.0,452.0 C861.3,448.7 929.7,530.3 930.0,580.0 C930.3,629.7 863.3,746.7 832.0,750.0 C800.7,753.3 742.3,649.7 742.0,600.0 C741.7,550.3 798.7,455.3 830.0,452.0 Z"/>
<path d="M515.0,510.0 C507.5,541.7 485.8,635.0 470.0,700.0 C454.2,765.0 443.3,843.3 420.0,900.0 C396.7,956.7 378.3,1010.0 330.0,1040.0 C281.7,1070.0 172.5,1065.0 130.0,1080.0 C87.5,1095.0 71.7,1115.0 75.0,1130.0 C78.3,1145.0 95.8,1166.7 150.0,1170.0 C204.2,1173.3 338.3,1168.3 400.0,1150.0 C461.7,1131.7 490.0,1086.7 520.0,1060.0 C550.0,1033.3 581.7,1005.8 580.0,990.0 C578.3,974.2 521.7,969.2 510.0,965.0"/>
<path d="M742.0,660.0 C735.3,691.7 692.3,806.7 702.0,850.0 C711.7,893.3 770.3,895.0 800.0,920.0 C829.7,945.0 861.3,961.7 880.0,1000.0 C898.7,1038.3 907.0,1096.7 912.0,1150.0 C917.0,1203.3 918.7,1296.7 910.0,1320.0 C901.3,1343.3 880.0,1318.3 860.0,1290.0 C840.0,1261.7 813.3,1188.3 790.0,1150.0 C766.7,1111.7 755.0,1086.7 720.0,1060.0 C685.0,1033.3 603.3,1001.7 580.0,990.0"/>
<circle cx="740" cy="215" r="115"/>
<path d="M805,585 L810,630"/>
</g>
<g transform="translate(950,570) scale(0.08071)" fill="none" stroke="#FC9640" stroke-width="33.5" stroke-linecap="round" stroke-linejoin="round">
<path d="M1000.0,382.0 C1020.0,391.7 1056.7,425.3 1060.0,450.0 C1063.3,474.7 1036.7,516.7 1020.0,530.0 C1003.3,543.3 983.3,534.7 960.0,530.0 C936.7,525.3 940.0,503.7 880.0,502.0 C820.0,500.3 653.3,510.3 600.0,520.0 C546.7,529.7 568.3,530.0 560.0,560.0 C551.7,590.0 548.3,651.7 550.0,700.0 C551.7,748.3 555.0,800.0 570.0,850.0 C585.0,900.0 623.3,950.0 640.0,1000.0 C656.7,1050.0 668.3,1106.3 670.0,1150.0 C671.7,1193.7 661.7,1253.7 650.0,1262.0 C638.3,1270.3 618.3,1235.3 600.0,1200.0 C581.7,1164.7 566.3,1098.0 540.0,1050.0 C513.7,1002.0 468.7,912.0 442.0,912.0 C415.3,912.0 408.7,1003.7 380.0,1050.0 C351.3,1096.3 308.3,1154.7 270.0,1190.0 C231.7,1225.3 166.7,1263.7 150.0,1262.0 C133.3,1260.3 151.7,1223.7 170.0,1180.0 C188.3,1136.3 238.3,1055.0 260.0,1000.0 C281.7,945.0 291.7,906.3 300.0,850.0 C308.3,793.7 323.3,688.7 310.0,662.0 C296.7,635.3 250.0,693.7 220.0,690.0 C190.0,686.3 145.0,666.7 130.0,640.0 C115.0,613.3 113.3,561.7 130.0,530.0 C146.7,498.3 185.0,470.7 230.0,450.0 C275.0,429.3 321.7,412.7 400.0,406.0 C478.3,399.3 618.3,407.7 700.0,410.0 C781.7,412.3 850.0,423.0 890.0,420.0 C930.0,417.0 921.7,398.3 940.0,392.0 C958.3,385.7 980.0,372.3 1000.0,382.0 Z"/>
<path d="M300.0,645.0 C316.7,641.2 369.7,636.2 400.0,622.0 C430.3,607.8 473.7,580.3 482.0,560.0 C490.3,539.7 467.0,510.0 450.0,500.0 C433.0,490.0 401.7,491.7 380.0,500.0 C358.3,508.3 339.7,533.3 320.0,550.0 C300.3,566.7 276.7,598.0 262.0,600.0 C247.3,602.0 232.0,572.0 232.0,562.0 C232.0,552.0 250.7,538.3 262.0,540.0 C273.3,541.7 293.7,566.7 300.0,572.0"/>
<circle cx="455" cy="225" r="115"/>
</g>
<g transform="translate(1050,570) scale(0.08071)" fill="none" stroke="#FC9640" stroke-width="33.5" stroke-linecap="round" stroke-linejoin="round">
<path d="M640.0,742.0 C630.0,739.0 556.7,702.3 500.0,682.0 C443.3,661.7 361.7,647.0 300.0,620.0 C238.3,593.0 165.0,556.7 130.0,520.0 C95.0,483.3 81.7,429.7 90.0,400.0 C98.3,370.3 145.0,348.3 180.0,342.0 C215.0,335.7 263.3,343.7 300.0,362.0 C336.7,380.3 370.0,412.3 400.0,452.0 C430.0,491.7 453.3,558.7 480.0,600.0 C506.7,641.3 533.3,676.3 560.0,700.0 C586.7,723.7 650.0,745.0 640.0,742.0 Z"/>
<path d="M690.0,762.0 C695.3,768.3 720.3,768.7 722.0,800.0 C723.7,831.3 713.7,900.0 700.0,950.0 C686.3,1000.0 664.7,1051.7 640.0,1100.0 C615.3,1148.3 555.3,1215.0 552.0,1240.0 C548.7,1265.0 592.0,1265.0 620.0,1250.0 C648.0,1235.0 690.0,1191.7 720.0,1150.0 C750.0,1108.3 776.3,1041.7 800.0,1000.0 C823.7,958.3 835.3,895.0 862.0,900.0 C888.7,905.0 928.7,985.0 960.0,1030.0 C991.3,1075.0 1026.7,1133.3 1050.0,1170.0 C1073.3,1206.7 1086.7,1245.0 1100.0,1250.0 C1113.3,1255.0 1130.0,1241.7 1130.0,1200.0 C1130.0,1158.3 1121.7,1066.7 1100.0,1000.0 C1078.3,933.3 1020.0,860.0 1000.0,800.0 C980.0,740.0 975.0,690.0 980.0,640.0 C985.0,590.0 1025.0,540.0 1030.0,500.0 C1035.0,460.0 1031.7,419.7 1010.0,400.0 C988.3,380.3 951.7,382.8 900.0,382.0 C848.3,381.2 750.0,378.7 700.0,395.0 C650.0,411.3 623.3,445.8 600.0,480.0 C576.7,514.2 561.7,563.3 560.0,600.0 C558.3,636.7 570.0,676.3 590.0,700.0 C610.0,723.7 635.0,745.0 680.0,742.0 C725.0,739.0 806.7,705.7 860.0,682.0 C913.3,658.3 976.7,613.7 1000.0,600.0"/>
<path d="M940.0,502.0 C916.7,521.7 848.3,581.7 800.0,620.0 C751.7,658.3 675.0,713.3 650.0,732.0"/>
<path d="M700.0,500.0 C688.0,500.0 661.3,551.7 650.0,580.0 C638.7,608.3 630.0,643.0 632.0,670.0 C634.0,697.0 647.0,742.0 662.0,742.0 C677.0,742.0 712.0,697.0 722.0,670.0 C732.0,643.0 725.7,608.3 722.0,580.0 C718.3,551.7 712.0,500.0 700.0,500.0 Z"/>
<circle cx="855" cy="205" r="115"/>
</g>
<text x="121.95" y="771.15" font-size="67.88" fill="#FFFFFF" stroke="#FFFFFF" stroke-width="1.30" stroke-linejoin="round" textLength="267.63" lengthAdjust="spacingAndGlyphs">WOMEN</text>
<text x="107.08" y="837.95" font-size="67.73" fill="#FFFFFF" stroke="#FFFFFF" stroke-width="1.30" stroke-linejoin="round" textLength="299.02" lengthAdjust="spacingAndGlyphs">IN SPORT</text>
<text x="102.82" y="875.05" font-size="27.88" letter-spacing="1.36" fill="#FA9E1E" stroke="#FA9E1E" stroke-width="0.50" stroke-linejoin="round" textLength="304.19" lengthAdjust="spacingAndGlyphs">funding increased to</text>
<text x="107.11" y="942.35" font-size="69.46" fill="#FFFFFF" stroke="#FFFFFF" stroke-width="1.30" stroke-linejoin="round" textLength="289.55" lengthAdjust="spacingAndGlyphs">€  5,000</text>
<path transform="translate(145.72,942.35) scale(0.03390,-0.03392)" d="M515,0 H696 V1409 H565 L318,1222 L368,1098 L515,1212 Z" fill="#FFFFFF" stroke="#FFFFFF" stroke-width="38.4" stroke-linejoin="round"/>
<path transform="translate(184.33,942.35) scale(0.03390,-0.03392)" d="M515,0 H696 V1409 H565 L318,1222 L368,1098 L515,1212 Z" fill="#FFFFFF" stroke="#FFFFFF" stroke-width="38.4" stroke-linejoin="round"/>
<rect x="448.2" y="712" width="1.4" height="245" fill="#F6D2D8"/>
<rect x="811.7" y="712" width="1.4" height="245" fill="#F6D2D8"/>
<text x="491.09" y="777.65" font-size="78.05" fill="#FFFFFF" stroke="#FFFFFF" stroke-width="1.30" stroke-linejoin="round" textLength="267.31" lengthAdjust="spacingAndGlyphs">20 LSPs</text>
<text x="543.70" y="812.65" font-size="32.71" letter-spacing="0.55" fill="#FA9E1E" stroke="#FA9E1E" stroke-width="0.50" stroke-linejoin="round" textLength="164.22" lengthAdjust="spacingAndGlyphs">will have a</text>
<text x="533.45" y="882.35" font-size="79.80" fill="#FFFFFF" stroke="#FFFFFF" stroke-width="1.30" stroke-linejoin="round" textLength="183.19" lengthAdjust="spacingAndGlyphs">SIDO</text>
<text x="497.15" y="907.20" font-size="17.20" fill="#FFFFFF" textLength="257.49" lengthAdjust="spacingAndGlyphs">(Sports Inclusion Disability Officer)</text>
<text x="504.71" y="942.05" font-size="32.23" letter-spacing="0.45" fill="#FA9E1E" stroke="#FA9E1E" stroke-width="0.50" stroke-linejoin="round" textLength="239.87" lengthAdjust="spacingAndGlyphs">position in 20 7</text>
<path transform="translate(706.75,942.05) scale(0.01620,-0.01574)" d="M515,0 H696 V1409 H565 L318,1222 L368,1098 L515,1212 Z" fill="#FA9E1E" stroke="#FA9E1E" stroke-width="30.9" stroke-linejoin="round"/>
<text x="859.16" y="777.25" font-size="77.47" fill="#FFFFFF" stroke="#FFFFFF" stroke-width="1.30" stroke-linejoin="round" textLength="262.40" lengthAdjust="spacingAndGlyphs">22 LSPs</text>
<text x="909.70" y="812.25" font-size="32.29" letter-spacing="0.58" fill="#FA9E1E" stroke="#FA9E1E" stroke-width="0.50" stroke-linejoin="round" textLength="162.95" lengthAdjust="spacingAndGlyphs">will have a</text>
<text x="882.74" y="881.95" font-size="79.36" fill="#FFFFFF" stroke="#FFFFFF" stroke-width="1.30" stroke-linejoin="round" textLength="216.49" lengthAdjust="spacingAndGlyphs">CSDO</text>
<text x="834.23" y="907.90" font-size="17.20" fill="#FFFFFF" textLength="313.73" lengthAdjust="spacingAndGlyphs">(Community Sports Development Officer)</text>
<text x="871.23" y="942.25" font-size="31.65" letter-spacing="0.60" fill="#FA9E1E" stroke="#FA9E1E" stroke-width="0.50" stroke-linejoin="round" textLength="240.40" lengthAdjust="spacingAndGlyphs">position in 20 7</text>
<path transform="translate(1073.79,942.25) scale(0.01606,-0.01546)" d="M515,0 H696 V1409 H565 L318,1222 L368,1098 L515,1212 Z" fill="#FA9E1E" stroke="#FA9E1E" stroke-width="31.1" stroke-linejoin="round"/>
<text x="498.64" y="1009.50" font-size="21.95" fill="#FFFFFF" stroke="#FFFFFF" stroke-width="0.40" stroke-linejoin="round" textLength="254.54" lengthAdjust="spacingAndGlyphs">SPORT IRELAND ETHICS</text>
<path d="M301.3,1039.5 V1001.5 H490.2 M763.8,1001.7 H953.5 V1039.5 M624.8,1017 V1039.5" stroke="#F6D2D8" stroke-width="1.3" fill="none"/>
<polygon points="179.5,1039.5 434.4,1039.5 425.4,1057.5 434.4,1075.6 179.5,1075.6 188.3,1057.5" fill="#F2A124"/>
<polygon points="498.9,1039.5 753.1,1039.5 743.9,1057.5 753.1,1075.6 498.9,1075.6 508.4,1057.5" fill="#F2A124"/>
<polygon points="826.6,1039.5 1080.5,1039.5 1070.8,1057.5 1080.5,1075.6 826.6,1075.6 837.0,1057.5" fill="#F2A124"/>
<text x="213.38" y="1067.05" font-size="22.24" fill="#FFF8EC" stroke="#FFF8EC" stroke-width="0.50" stroke-linejoin="round" textLength="189.20" lengthAdjust="spacingAndGlyphs">SAFEGUARDING  </text>
<path transform="translate(390.67,1067.05) scale(0.01046,-0.01086)" d="M515,0 H696 V1409 H565 L318,1222 L368,1098 L515,1212 Z" fill="#FFF8EC" stroke="#FFF8EC" stroke-width="47.8" stroke-linejoin="round"/>
<text x="534.47" y="1067.05" font-size="22.09" fill="#FFF8EC" stroke="#FFF8EC" stroke-width="0.50" stroke-linejoin="round" textLength="190.46" lengthAdjust="spacingAndGlyphs">SAFEGUARDING 2</text>
<text x="856.97" y="1066.65" font-size="22.09" fill="#FFF8EC" stroke="#FFF8EC" stroke-width="0.50" stroke-linejoin="round" textLength="190.22" lengthAdjust="spacingAndGlyphs">SAFEGUARDING 3</text>
<text x="172.64" y="1146.90" font-size="71.18" letter-spacing="0.61" fill="#FFFFFF" stroke="#FFFFFF" stroke-width="1.20" stroke-linejoin="round" textLength="265.32" lengthAdjust="spacingAndGlyphs">€56,708</text>
<text x="504.09" y="1146.90" font-size="71.18" fill="#FFFFFF" stroke="#FFFFFF" stroke-width="1.20" stroke-linejoin="round" textLength="237.52" lengthAdjust="spacingAndGlyphs">€ 8, 52</text>
<path transform="translate(540.63,1146.90) scale(0.03208,-0.03476)" d="M515,0 H696 V1409 H565 L318,1222 L368,1098 L515,1212 Z" fill="#FFFFFF" stroke="#FFFFFF" stroke-width="37.4" stroke-linejoin="round"/>
<path transform="translate(631.97,1146.90) scale(0.03208,-0.03476)" d="M515,0 H696 V1409 H565 L318,1222 L368,1098 L515,1212 Z" fill="#FFFFFF" stroke="#FFFFFF" stroke-width="37.4" stroke-linejoin="round"/>
<text x="822.64" y="1146.90" font-size="71.18" letter-spacing="0.19" fill="#FFFFFF" stroke="#FFFFFF" stroke-width="1.20" stroke-linejoin="round" textLength="259.74" lengthAdjust="spacingAndGlyphs">€ 0,880</text>
<path transform="translate(862.59,1146.90) scale(0.03491,-0.03476)" d="M515,0 H696 V1409 H565 L318,1222 L368,1098 L515,1212 Z" fill="#FFFFFF" stroke="#FFFFFF" stroke-width="34.4" stroke-linejoin="round"/>
<text x="184.28" y="1182.55" font-size="21.80" letter-spacing="0.57" fill="#FFFFFF" stroke="#CA1634" stroke-width="0.30" stroke-linejoin="round" textLength="238.93" lengthAdjust="spacingAndGlyphs">of funding allocated to</text>
<text x="180.36" y="1209.55" font-size="21.80" letter-spacing="0.03" fill="#FFFFFF" stroke="#CA1634" stroke-width="0.30" stroke-linejoin="round" textLength="246.33" lengthAdjust="spacingAndGlyphs">LSPs to deliver 3 5 Child</text>
<path transform="translate(346.21,1209.55) scale(0.01068,-0.01064)" d="M515,0 H696 V1409 H565 L318,1222 L368,1098 L515,1212 Z" fill="#FFFFFF"/>
<text x="168.95" y="1236.45" font-size="21.80" letter-spacing="0.25" fill="#FFFFFF" stroke="#CA1634" stroke-width="0.30" stroke-linejoin="round" textLength="271.74" lengthAdjust="spacingAndGlyphs">Welfare &amp; Protection Basic</text>
<text x="208.21" y="1263.15" font-size="21.80" letter-spacing="0.07" fill="#FFFFFF" stroke="#CA1634" stroke-width="0.30" stroke-linejoin="round" textLength="196.90" lengthAdjust="spacingAndGlyphs">Awareness Courses</text>
<text x="519.89" y="1182.55" font-size="21.80" letter-spacing="0.55" fill="#FFFFFF" stroke="#CA1634" stroke-width="0.30" stroke-linejoin="round" textLength="210.83" lengthAdjust="spacingAndGlyphs">of funding allocated</text>
<text x="519.82" y="1209.55" font-size="21.80" letter-spacing="0.03" fill="#FFFFFF" stroke="#CA1634" stroke-width="0.30" stroke-linejoin="round" textLength="214.80" lengthAdjust="spacingAndGlyphs">to LSPs to deliver  0 </text>
<path transform="translate(698.01,1209.55) scale(0.01068,-0.01064)" d="M515,0 H696 V1409 H565 L318,1222 L368,1098 L515,1212 Z" fill="#FFFFFF"/>
<path transform="translate(722.42,1209.55) scale(0.01068,-0.01064)" d="M515,0 H696 V1409 H565 L318,1222 L368,1098 L515,1212 Z" fill="#FFFFFF"/>
<text x="509.31" y="1236.45" font-size="21.80" letter-spacing="0.30" fill="#FFFFFF" stroke="#CA1634" stroke-width="0.30" stroke-linejoin="round" textLength="230.92" lengthAdjust="spacingAndGlyphs">Club Children’s Officer</text>
<text x="583.13" y="1263.15" font-size="21.80" letter-spacing="0.12" fill="#FFFFFF" stroke="#CA1634" stroke-width="0.30" stroke-linejoin="round" textLength="82.73" lengthAdjust="spacingAndGlyphs">Courses</text>
<text x="845.69" y="1182.55" font-size="21.80" letter-spacing="0.55" fill="#FFFFFF" stroke="#CA1634" stroke-width="0.30" stroke-linejoin="round" textLength="210.62" lengthAdjust="spacingAndGlyphs">of funding allocated</text>
<text x="847.02" y="1209.55" font-size="21.80" letter-spacing="0.15" fill="#FFFFFF" stroke="#CA1634" stroke-width="0.30" stroke-linejoin="round" textLength="207.45" lengthAdjust="spacingAndGlyphs">to LSPs to deliver 60</text>
<text x="852.11" y="1236.45" font-size="21.80" letter-spacing="0.33" fill="#FFFFFF" stroke="#CA1634" stroke-width="0.30" stroke-linejoin="round" textLength="197.14" lengthAdjust="spacingAndGlyphs">Designated Liaison</text>
<text x="875.36" y="1263.15" font-size="21.80" letter-spacing="0.00" fill="#FFFFFF" stroke="#CA1634" stroke-width="0.30" stroke-linejoin="round" textLength="156.38" lengthAdjust="spacingAndGlyphs">Person Courses</text>
<g fill="#F49D0C">
<path fill-rule="evenodd" d="M224.6,1305.4 a39.6,39.6 0 1,0 0.01,0 Z M224.6,1315.6 a29.4,29.4 0 1,1 -0.01,0 Z"/>
<path fill-rule="evenodd" d="M224.6,1320.9 a24.1,24.1 0 1,0 0.01,0 Z M224.6,1330.3 a14.7,14.7 0 1,1 -0.01,0 Z"/>
<circle cx="224.6" cy="1345" r="9.4"/>
</g>
<line x1="226" y1="1344" x2="258" y2="1324" stroke="#CA1634" stroke-width="4.5"/>
<line x1="226" y1="1344" x2="257" y2="1324.5" stroke="#F49D0C" stroke-width="2.2"/>
<path d="M250.5,1317.5 L262.5,1309.5 L263,1317.5 L272,1321 L260,1329 Z" fill="#F49D0C" stroke="#CA1634" stroke-width="1"/>
<text x="284.28" y="1372.90" font-size="78.63" fill="#FFFFFF" stroke="#FFFFFF" stroke-width="1.60" stroke-linejoin="round" textLength="223.53" lengthAdjust="spacingAndGlyphs">6 LSPs</text>
<text x="523.47" y="1335.10" font-size="30.64" letter-spacing="0.39" fill="#FFFFFF" stroke="#CA1634" stroke-width="0.40" stroke-linejoin="round" textLength="516.14" lengthAdjust="spacingAndGlyphs">are being supported to commence a</text>
<text x="522.74" y="1371.70" font-size="30.64" letter-spacing="0.15" fill="#FFFFFF" stroke="#CA1634" stroke-width="0.40" stroke-linejoin="round" textLength="541.17" lengthAdjust="spacingAndGlyphs">new strategic planning process in 20 7</text>
<path transform="translate(1029.16,1371.70) scale(0.01512,-0.01496)" d="M515,0 H696 V1409 H565 L318,1222 L368,1098 L515,1212 Z" fill="#FFFFFF"/>
<polygon points="64.5,1419.5 1184.9,1419.5 1166.8,1456.2 1184.9,1492.8 64.5,1492.8 82.5,1456.2" fill="#FFFFFF"/>
<text x="251.11" y="1469.75" font-size="37.50" letter-spacing="0.50" fill="#C4123A" stroke="#C4123A" stroke-width="0.30" stroke-linejoin="round" textLength="745.35" lengthAdjust="spacingAndGlyphs">20 6 LSP Network Participation Highlights</text>
<path transform="translate(295.02,1469.75) scale(0.01882,-0.01831)" d="M515,0 H696 V1409 H565 L318,1222 L368,1098 L515,1212 Z" fill="#C4123A" stroke="#C4123A" stroke-width="15.9" stroke-linejoin="round"/>
<g transform="translate(150,1475) scale(0.09685)" fill="none" stroke="#FC9640" stroke-width="26.8" stroke-linecap="round" stroke-linejoin="round">
<path d="M245.0,372.0 C237.5,385.3 230.8,453.7 235.0,500.0 C239.2,546.3 250.8,606.3 270.0,650.0 C289.2,693.7 323.3,731.7 350.0,762.0 C376.7,792.3 413.0,809.0 430.0,832.0 C447.0,855.0 453.3,863.7 452.0,900.0 C450.7,936.3 433.2,1000.0 422.0,1050.0 C410.8,1100.0 390.3,1150.0 385.0,1200.0 C379.7,1250.0 382.5,1310.0 390.0,1350.0 C397.5,1390.0 408.3,1415.0 430.0,1440.0 C451.7,1465.0 478.3,1483.3 520.0,1500.0 C561.7,1516.7 641.7,1530.8 680.0,1540.0 C718.3,1549.2 741.7,1560.0 750.0,1555.0 C758.3,1550.0 748.3,1524.2 730.0,1510.0 C711.7,1495.8 671.7,1490.0 640.0,1470.0 C608.3,1450.0 561.7,1418.3 540.0,1390.0 C518.3,1361.7 513.0,1329.7 510.0,1300.0 C507.0,1270.3 512.0,1213.7 522.0,1212.0 C532.0,1210.3 550.3,1265.3 570.0,1290.0 C589.7,1314.7 615.0,1344.7 640.0,1360.0 C665.0,1375.3 685.0,1383.7 720.0,1382.0 C755.0,1380.3 809.7,1364.5 850.0,1350.0 C890.3,1335.5 950.3,1308.3 962.0,1295.0 C973.7,1281.7 947.0,1274.2 920.0,1270.0 C893.0,1265.8 836.7,1271.3 800.0,1270.0 C763.3,1268.7 726.7,1282.0 700.0,1262.0 C673.3,1242.0 653.3,1185.3 640.0,1150.0 C626.7,1114.7 618.3,1081.3 620.0,1050.0 C621.7,1018.7 633.3,983.3 650.0,962.0 C666.7,940.7 683.3,935.3 720.0,922.0 C756.7,908.7 829.7,898.7 870.0,882.0 C910.3,865.3 946.7,852.3 962.0,822.0 C977.3,791.7 969.0,740.3 962.0,700.0 C955.0,659.7 935.3,608.0 920.0,580.0 C904.7,552.0 880.0,528.7 870.0,532.0 C860.0,535.3 860.0,568.7 860.0,600.0 C860.0,631.3 873.3,688.0 870.0,720.0 C866.7,752.0 858.3,776.2 840.0,792.0 C821.7,807.8 791.7,813.7 760.0,815.0 C728.3,816.3 693.3,812.5 650.0,800.0 C606.7,787.5 545.0,769.7 500.0,740.0 C455.0,710.3 410.0,662.0 380.0,622.0 C350.0,582.0 336.7,533.7 320.0,500.0 C303.3,466.3 292.5,441.3 280.0,420.0 C267.5,398.7 252.5,358.7 245.0,372.0 Z"/>
<circle cx="232" cy="185" r="100"/>
<circle cx="680" cy="645" r="100"/>
</g>
<g transform="translate(450,1505) scale(0.08071)" fill="none" stroke="#FC9640" stroke-width="32.2" stroke-linecap="round" stroke-linejoin="round">
<path d="M455.0,195.0 C468.3,189.7 522.5,210.8 560.0,230.0 C597.5,249.2 648.3,276.7 680.0,310.0 C711.7,343.3 737.5,388.3 750.0,430.0 C762.5,471.7 760.8,515.0 755.0,560.0 C749.2,605.0 725.0,656.7 715.0,700.0 C705.0,743.3 692.5,773.3 695.0,820.0 C697.5,866.7 709.2,925.0 730.0,980.0 C750.8,1035.0 798.3,1091.7 820.0,1150.0 C841.7,1208.3 856.7,1276.7 860.0,1330.0 C863.3,1383.3 851.7,1455.0 840.0,1470.0 C828.3,1485.0 806.7,1455.0 790.0,1420.0 C773.3,1385.0 768.3,1313.3 740.0,1260.0 C711.7,1206.7 656.7,1100.0 620.0,1100.0 C583.3,1100.0 556.7,1210.0 520.0,1260.0 C483.3,1310.0 431.7,1365.0 400.0,1400.0 C368.3,1435.0 340.0,1473.3 330.0,1470.0 C320.0,1466.7 325.0,1420.0 340.0,1380.0 C355.0,1340.0 396.7,1286.7 420.0,1230.0 C443.3,1173.3 471.7,1098.3 480.0,1040.0 C488.3,981.7 480.0,921.3 470.0,880.0 C460.0,838.7 440.0,801.7 420.0,792.0 C400.0,782.3 363.3,800.7 350.0,822.0 C336.7,843.3 336.7,875.3 340.0,920.0 C343.3,964.7 376.7,1068.3 370.0,1090.0 C363.3,1111.7 321.7,1078.3 300.0,1050.0 C278.3,1021.7 246.7,968.3 240.0,920.0 C233.3,871.7 243.3,800.0 260.0,760.0 C276.7,720.0 305.0,697.5 340.0,680.0 C375.0,662.5 428.3,665.0 470.0,655.0 C511.7,645.0 561.7,645.8 590.0,620.0 C618.3,594.2 638.3,546.7 640.0,500.0 C641.7,453.3 626.7,379.7 600.0,340.0 C573.3,300.3 504.2,286.2 480.0,262.0 C455.8,237.8 441.7,200.3 455.0,195.0 Z"/>
<circle cx="450" cy="485" r="120"/>
</g>
<g transform="translate(715,1505) scale(0.08878)" fill="none" stroke="#FC9640" stroke-width="29.3" stroke-linecap="round" stroke-linejoin="round">
<path d="M550.0,460.0 C531.7,460.8 465.0,455.0 440.0,465.0 C415.0,475.0 408.3,495.8 400.0,520.0 C391.7,544.2 393.7,579.2 390.0,610.0 C386.3,640.8 391.3,701.7 378.0,705.0 C364.7,708.3 324.7,664.2 310.0,630.0 C295.3,595.8 286.7,538.3 290.0,500.0 C293.3,461.7 303.3,427.5 330.0,400.0 C356.7,372.5 405.0,347.5 450.0,335.0 C495.0,322.5 551.7,322.5 600.0,325.0 C648.3,327.5 701.7,335.8 740.0,350.0 C778.3,364.2 806.7,385.0 830.0,410.0 C853.3,435.0 865.0,475.0 880.0,500.0 C895.0,525.0 893.3,547.5 920.0,560.0 C946.7,572.5 1010.0,567.5 1040.0,575.0 C1070.0,582.5 1096.7,592.5 1100.0,605.0 C1103.3,617.5 1093.3,640.8 1060.0,650.0 C1026.7,659.2 943.3,663.3 900.0,660.0 C856.7,656.7 825.0,646.7 800.0,630.0 C775.0,613.3 758.3,571.7 750.0,560.0"/>
<path d="M765.0,470.0 C757.5,495.0 734.2,573.3 720.0,620.0 C705.8,666.7 671.7,715.0 680.0,750.0 C688.3,785.0 740.0,795.0 770.0,830.0 C800.0,865.0 834.2,915.0 860.0,960.0 C885.8,1005.0 916.7,1063.3 925.0,1100.0 C933.3,1136.7 922.5,1173.3 910.0,1180.0 C897.5,1186.7 875.0,1170.0 850.0,1140.0 C825.0,1110.0 791.7,1036.7 760.0,1000.0 C728.3,963.3 690.0,938.3 660.0,920.0 C630.0,901.7 608.3,897.5 580.0,890.0 C551.7,882.5 505.0,877.5 490.0,875.0"/>
<path d="M505.0,460.0 C502.5,486.7 499.2,566.7 490.0,620.0 C480.8,673.3 471.7,736.7 450.0,780.0 C428.3,823.3 408.3,860.8 360.0,880.0 C311.7,899.2 205.0,885.0 160.0,895.0 C115.0,905.0 95.0,924.2 90.0,940.0 C85.0,955.8 86.7,980.0 130.0,990.0 C173.3,1000.0 288.3,1005.0 350.0,1000.0 C411.7,995.0 461.7,978.3 500.0,960.0 C538.3,941.7 566.7,901.7 580.0,890.0"/>
<circle cx="725" cy="200" r="105"/>
</g>
<g transform="translate(985,1520) scale(0.09685)" fill="none" stroke="#FC9640" stroke-width="26.8" stroke-linecap="round" stroke-linejoin="round">
<path d="M560.0,800.0 C548.3,796.7 538.3,750.0 530.0,720.0 C521.7,690.0 520.0,650.0 510.0,620.0 C500.0,590.0 483.3,566.7 470.0,540.0 C456.7,513.3 433.3,488.3 430.0,460.0 C426.7,431.7 428.3,398.3 450.0,370.0 C471.7,341.7 521.7,311.7 560.0,290.0 C598.3,268.3 650.0,245.0 680.0,240.0 C710.0,235.0 720.0,245.0 740.0,260.0 C760.0,275.0 778.3,306.7 800.0,330.0 C821.7,353.3 845.0,380.0 870.0,400.0 C895.0,420.0 938.3,436.3 950.0,450.0 C961.7,463.7 960.0,478.7 940.0,482.0 C920.0,485.3 865.0,485.3 830.0,470.0 C795.0,454.7 750.0,406.3 730.0,390.0 C710.0,373.7 728.3,367.0 710.0,372.0 C691.7,377.0 645.0,403.7 620.0,420.0 C595.0,436.3 568.3,448.3 560.0,470.0 C551.7,491.7 563.3,520.0 570.0,550.0 C576.7,580.0 595.0,618.3 600.0,650.0 C605.0,681.7 606.7,715.0 600.0,740.0 C593.3,765.0 571.7,803.3 560.0,800.0 Z"/>
<path d="M660.0,455.0 C670.0,460.8 708.3,472.5 720.0,490.0 C731.7,507.5 738.3,535.0 730.0,560.0 C721.7,585.0 680.0,626.7 670.0,640.0"/>
<circle cx="290" cy="725" r="190"/>
<circle cx="910" cy="725" r="190"/>
<circle cx="850" cy="175" r="95"/>
<path d="M280,735 L420,600"/>
<path d="M910,730 L850,560"/>
<path d="M625,515 L645,570"/>
</g>
<text x="95.82" y="1682.50" font-size="64.02" fill="#FFFFFF" stroke="#FFFFFF" stroke-width="1.60" stroke-linejoin="round" textLength="228.56" lengthAdjust="spacingAndGlyphs">29 ,947</text>
<path transform="translate(166.15,1682.50) scale(0.03087,-0.03126)" d="M515,0 H696 V1409 H565 L318,1222 L368,1098 L515,1212 Z" fill="#FFFFFF" stroke="#FFFFFF" stroke-width="51.8" stroke-linejoin="round"/>
<text x="394.56" y="1682.50" font-size="64.02" letter-spacing="0.76" fill="#FFFFFF" stroke="#FFFFFF" stroke-width="1.60" stroke-linejoin="round" textLength="204.43" lengthAdjust="spacingAndGlyphs"> 0,404</text>
<path transform="translate(394.56,1682.50) scale(0.03189,-0.03126)" d="M515,0 H696 V1409 H565 L318,1222 L368,1098 L515,1212 Z" fill="#FFFFFF" stroke="#FFFFFF" stroke-width="50.2" stroke-linejoin="round"/>
<text x="671.14" y="1682.50" font-size="64.02" letter-spacing="0.82" fill="#FFFFFF" stroke="#FFFFFF" stroke-width="1.60" stroke-linejoin="round" textLength="205.16" lengthAdjust="spacingAndGlyphs"> 8,500</text>
<path transform="translate(671.14,1682.50) scale(0.03195,-0.03126)" d="M515,0 H696 V1409 H565 L318,1222 L368,1098 L515,1212 Z" fill="#FFFFFF" stroke="#FFFFFF" stroke-width="50.1" stroke-linejoin="round"/>
<text x="941.23" y="1682.50" font-size="64.02" letter-spacing="0.48" fill="#FFFFFF" stroke="#FFFFFF" stroke-width="1.60" stroke-linejoin="round" textLength="201.29" lengthAdjust="spacingAndGlyphs"> 5,500</text>
<path transform="translate(941.23,1682.50) scale(0.03167,-0.03126)" d="M515,0 H696 V1409 H565 L318,1222 L368,1098 L515,1212 Z" fill="#FFFFFF" stroke="#FFFFFF" stroke-width="50.5" stroke-linejoin="round"/>
<text x="82.40" y="1716.00" font-size="23.30" letter-spacing="0.76" fill="#FFFFFF" textLength="254.43" lengthAdjust="spacingAndGlyphs">people participated in</text>
<text x="97.16" y="1746.40" font-size="23.30" letter-spacing="0.34" fill="#FFFFFF" textLength="225.14" lengthAdjust="spacingAndGlyphs">86  locally delivered</text>
<path transform="translate(124.59,1746.40) scale(0.01174,-0.01138)" d="M515,0 H696 V1409 H565 L318,1222 L368,1098 L515,1212 Z" fill="#FFFFFF"/>
<text x="130.10" y="1775.92" font-size="23.30" letter-spacing="1.33" fill="#FFFFFF" stroke="#FFFFFF" stroke-width="0.55" stroke-linejoin="round" textLength="159.29" lengthAdjust="spacingAndGlyphs">participation</text>
<text x="136.46" y="1806.12" font-size="23.30" letter-spacing="1.18" fill="#FFFFFF" stroke="#FFFFFF" stroke-width="0.55" stroke-linejoin="round" textLength="153.55" lengthAdjust="spacingAndGlyphs">programmes</text>
<text x="387.25" y="1716.00" font-size="23.30" letter-spacing="0.82" fill="#FFFFFF" textLength="225.93" lengthAdjust="spacingAndGlyphs">female participants</text>
<text x="388.12" y="1746.40" font-size="23.30" letter-spacing="0.70" fill="#FFFFFF" textLength="231.09" lengthAdjust="spacingAndGlyphs">took part in 70 local</text>
<text x="408.57" y="1775.92" font-size="23.30" letter-spacing="0.93" fill="#FFFFFF" stroke="#FFFFFF" stroke-width="0.55" stroke-linejoin="round" textLength="191.73" lengthAdjust="spacingAndGlyphs">Women in Sport</text>
<text x="426.96" y="1806.12" font-size="23.30" letter-spacing="1.21" fill="#FFFFFF" stroke="#FFFFFF" stroke-width="0.55" stroke-linejoin="round" textLength="153.98" lengthAdjust="spacingAndGlyphs">programmes</text>
<text x="679.99" y="1716.00" font-size="23.30" letter-spacing="0.85" fill="#FFFFFF" textLength="198.00" lengthAdjust="spacingAndGlyphs">participants took</text>
<text x="675.95" y="1746.40" font-size="23.30" letter-spacing="1.12" fill="#FFFFFF" textLength="79.74" lengthAdjust="spacingAndGlyphs">part in</text>
<text x="668.21" y="1775.92" font-size="23.30" letter-spacing="0.92" fill="#FFFFFF" stroke="#FFFFFF" stroke-width="0.55" stroke-linejoin="round" textLength="217.47" lengthAdjust="spacingAndGlyphs">Transformation 5k</text>
<text x="657.27" y="1806.12" font-size="23.30" letter-spacing="0.63" fill="#FFFFFF" stroke="#FFFFFF" stroke-width="0.55" stroke-linejoin="round" textLength="237.59" lengthAdjust="spacingAndGlyphs">Fun Runs and Walks</text>
<text x="976.67" y="1716.00" font-size="23.30" letter-spacing="0.96" fill="#FFFFFF" textLength="141.48" lengthAdjust="spacingAndGlyphs">participants</text>
<text x="957.62" y="1746.40" font-size="23.30" letter-spacing="0.84" fill="#FFFFFF" textLength="180.19" lengthAdjust="spacingAndGlyphs">took part in the</text>
<text x="933.33" y="1775.92" font-size="23.30" letter-spacing="0.43" fill="#FFFFFF" stroke="#FFFFFF" stroke-width="0.55" stroke-linejoin="round" textLength="235.82" lengthAdjust="spacingAndGlyphs">An Post Cycle Series</text>
<text x="759.77" y="1746.12" font-size="23.30" letter-spacing="1.22" fill="#FFFFFF" stroke="#FFFFFF" stroke-width="0.55" stroke-linejoin="round" textLength="123.43" lengthAdjust="spacingAndGlyphs">Operation</text>
<text x="925.80" y="1803.33" font-size="17.80" letter-spacing="0.57" fill="#FFFFFF" stroke="#FFFFFF" stroke-width="0.35" stroke-linejoin="round" textLength="250.01" lengthAdjust="spacingAndGlyphs">(Sport Ireland Cycle Series)</text>
</svg>
</body></html>
